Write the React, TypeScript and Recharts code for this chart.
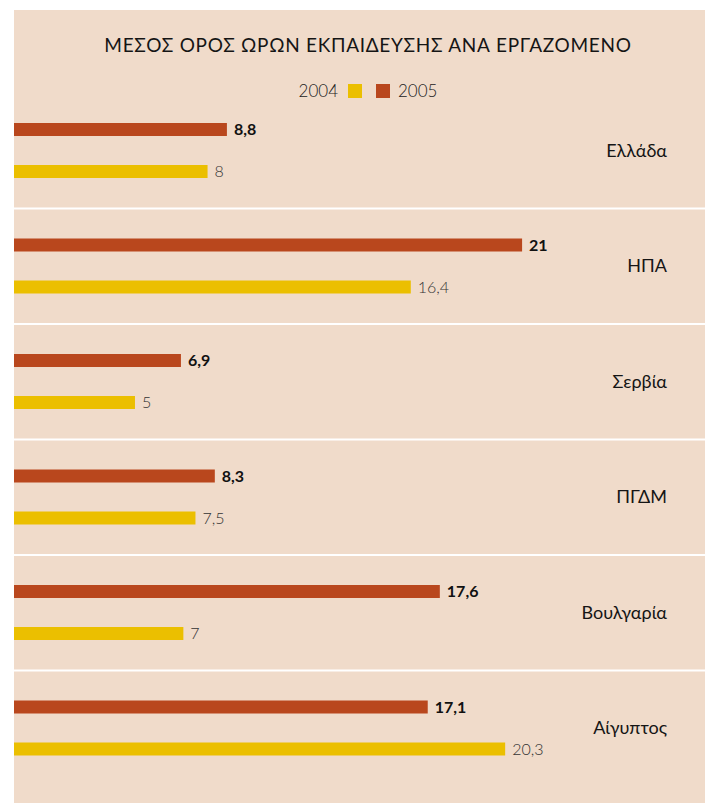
import React from 'react';
import { BarChart, Bar, XAxis, YAxis, CartesianGrid, LabelList } from 'recharts';

const countries = ['Ελλάδα', 'ΗΠΑ', 'Σερβία', 'ΠΓΔΜ', 'Βουλγαρία', 'Αίγυπτος'];
const values2004 = [8, 16.4, 5, 7.5, 7, 20.3];
const values2005 = [8.8, 21, 6.9, 8.3, 17.6, 17.1];
const years = ['2004', '2005'];

const BG = '#F0DBCA';
const RED = '#B9471D';
const YELLOW = '#EBBF00';
const FONT = 'Lato, "Open Sans", sans-serif';

const data = countries.map((c, i) => ({ country: c, y2004: values2004[i], y2005: values2005[i] }));

const fmt = (v: any) => String(v).replace('.', ',');

const CountryTick = (props: any) => {
  const { x, y, payload } = props;
  return (
    <text x={x + 82} y={y} dy={6} textAnchor="end" fontSize={18} fill="#151515" fontFamily={FONT}>
      {payload.value}
    </text>
  );
};

const App: React.FC = () => {
  return (
    <div style={{ position: 'fixed', left: 14, top: 10, width: 691, height: 793, background: BG, fontFamily: FONT, overflow: 'hidden' }}>
      <div style={{ position: 'absolute', left: 0, width: 708, top: 23, textAlign: 'center', fontSize: 19, letterSpacing: 0.7, color: '#151515' }}>
        ΜΕΣΟΣ ΟΡΟΣ ΩΡΩΝ ΕΚΠΑΙΔΕΥΣΗΣ ΑΝΑ ΕΡΓΑΖΟΜΕΝΟ
      </div>
      <div style={{ position: 'absolute', left: 0, width: 708, top: 70, display: 'flex', justifyContent: 'center', alignItems: 'center', fontSize: 17, fontWeight: 300, color: '#222' }}>
        <span>{years[0]}</span>
        <span style={{ width: 14, height: 14, background: YELLOW, marginLeft: 10 }} />
        <span style={{ width: 14, height: 14, background: RED, marginLeft: 14 }} />
        <span style={{ marginLeft: 8 }}>{years[1]}</span>
      </div>
      <BarChart
        width={691}
        height={793}
        data={data}
        layout="vertical"
        margin={{ top: 83, right: 0, bottom: 17, left: 0 }}
        barSize={13}
        barGap={29}
      >
        <CartesianGrid
          vertical={false}
          stroke="#ffffff"
          strokeWidth={2}
          x={0}
          width={691}
          horizontalCoordinatesGenerator={({ offset }: any) =>
            [1, 2, 3, 4, 5].map(i => offset.top + (offset.height * i) / countries.length)
          }
        />
        <XAxis type="number" domain={[0, 23.6]} hide />
        <YAxis
          type="category"
          dataKey="country"
          orientation="right"
          width={120}
          axisLine={false}
          tickLine={false}
          tickSize={0}
          tickMargin={0}
          tick={<CountryTick />}
        />
        <Bar dataKey="y2005" fill={RED} isAnimationActive={false}>
          <LabelList dataKey="y2005" position="right" offset={7} formatter={fmt} fill="#111" fontWeight={700} fontSize={16} fontFamily={FONT} />
        </Bar>
        <Bar dataKey="y2004" fill={YELLOW} isAnimationActive={false}>
          <LabelList dataKey="y2004" position="right" offset={7} formatter={fmt} fill="#333" fontWeight={300} fontSize={16} fontFamily={FONT} />
        </Bar>
      </BarChart>
    </div>
  );
};

export default App;
